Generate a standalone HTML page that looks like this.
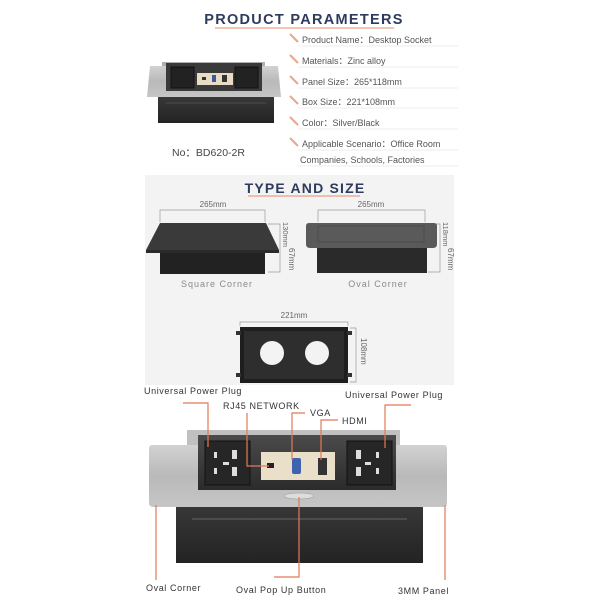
<!DOCTYPE html>
<html><head><meta charset="utf-8"><style>
html,body{margin:0;padding:0;background:#fff;width:600px;height:600px;overflow:hidden}
svg{display:block}
text{font-family:"Liberation Sans",sans-serif}
</style></head><body>
<svg width="600" height="600" viewBox="0 0 600 600" xmlns="http://www.w3.org/2000/svg">
<defs>
<linearGradient id="sil" x1="0" y1="0" x2="0" y2="1"><stop offset="0" stop-color="#d2d2d2"/><stop offset="0.5" stop-color="#b9b9b9"/><stop offset="1" stop-color="#c6c6c6"/></linearGradient>
<linearGradient id="blk" x1="0" y1="0" x2="0" y2="1"><stop offset="0" stop-color="#383838"/><stop offset="1" stop-color="#232323"/></linearGradient>
<linearGradient id="lidg" x1="0" y1="0" x2="0" y2="1"><stop offset="0" stop-color="#4b4b4b"/><stop offset="1" stop-color="#2b2b2b"/></linearGradient>
</defs>

<text x="304" y="24" text-anchor="middle" font-size="14.5" font-weight="bold" fill="#2d3b5e" letter-spacing="1.3">PRODUCT PARAMETERS</text>
<line x1="215" y1="28" x2="394" y2="28" stroke="#e98a6a" stroke-width="1"/>

<rect x="162" y="62" width="103" height="30" fill="#b0b0b0"/>
<path d="M150 66 L278 66 L281 97 L147 97 Z" fill="url(#sil)"/>
<rect x="166" y="63" width="96" height="28" fill="#3a3a3a"/>
<rect x="171" y="67" width="23" height="21" fill="#222" stroke="#111"/>
<rect x="235" y="67" width="23" height="21" fill="#222" stroke="#111"/>
<rect x="197" y="73" width="36" height="12" fill="#e8dcc4"/>
<rect x="202" y="77" width="4" height="3" fill="#333"/><rect x="212" y="75" width="4" height="7" fill="#3b5aa0"/><rect x="222" y="75" width="5" height="7" fill="#333"/>
<rect x="158" y="97" width="116" height="26" fill="url(#blk)"/>
<line x1="166" y1="103" x2="266" y2="103" stroke="#555" stroke-width="0.8"/>
<text x="172" y="156" font-size="10.5" fill="#444">No：BD620-2R</text>

<g font-size="9" fill="#555">
<g stroke="#e9a58e" stroke-width="2"><line x1="290" y1="34" x2="298" y2="42"/><line x1="290" y1="55" x2="298" y2="63"/><line x1="290" y1="76" x2="298" y2="84"/><line x1="290" y1="96" x2="298" y2="104"/><line x1="290" y1="117" x2="298" y2="125"/><line x1="290" y1="138" x2="298" y2="146"/></g>
<g stroke="#eee" stroke-width="1"><line x1="298" y1="46" x2="458" y2="46"/><line x1="298" y1="67" x2="458" y2="67"/><line x1="298" y1="88" x2="458" y2="88"/><line x1="298" y1="108" x2="458" y2="108"/><line x1="298" y1="129" x2="458" y2="129"/><line x1="298" y1="150" x2="458" y2="150"/><line x1="298" y1="166" x2="458" y2="166"/></g>
<text x="302" y="43">Product Name：Desktop Socket</text>
<text x="302" y="64">Materials：Zinc alloy</text>
<text x="302" y="85">Panel Size：265*118mm</text>
<text x="302" y="105">Box Size：221*108mm</text>
<text x="302" y="126">Color：Silver/Black</text>
<text x="302" y="147">Applicable Scenario：Office Room</text>
<text x="300" y="163">Companies, Schools, Factories</text>
</g>

<rect x="145" y="175" width="309" height="210" fill="#f3f3f3"/>
<text x="305" y="193" text-anchor="middle" font-size="14" font-weight="bold" fill="#2d3b5e" letter-spacing="1.2">TYPE AND SIZE</text>
<line x1="248" y1="196" x2="360" y2="196" stroke="#e98a6a" stroke-width="1"/>

<g stroke="#999" stroke-width="0.7" fill="none">
<path d="M160 222 V210 H265 V222"/><path d="M318 222 V210 H425 V222"/>
<path d="M268 224 H280 V272 H268"/><path d="M428 224 H440 V272 H428"/>
<path d="M240 326 V322 H348 V326"/><path d="M350 328 H356 V382 H350"/>
</g>
<g font-size="8" fill="#666">
<text x="213" y="207" text-anchor="middle">265mm</text>
<text x="371" y="207" text-anchor="middle">265mm</text>
<text x="294" y="318" text-anchor="middle">221mm</text>
<text transform="translate(283,222) rotate(90)" font-size="7.5">130mm</text>
<text transform="translate(289,248) rotate(90)">67mm</text>
<text transform="translate(443,222) rotate(90)" font-size="7.5">118mm</text>
<text transform="translate(448,248) rotate(90)">67mm</text>
<text transform="translate(361,338) rotate(90)">108mm</text>
</g>
<rect x="160" y="252" width="105" height="22" fill="#222"/>
<path d="M160 223 L266 223 L279 250 L146 250 Z" fill="#3a3a3a"/>
<rect x="146" y="250" width="133" height="3" fill="#2a2a2a"/>
<rect x="317" y="248" width="110" height="25" fill="#2a2a2a"/>
<path d="M309 223 L434 223 Q437 223 437 226 L437 244 Q437 248 433 248 L310 248 Q306 248 306 244 L306 226 Q306 223 309 223 Z" fill="#5a5a5a"/>
<rect x="318" y="226" width="106" height="16" fill="none" stroke="#444" stroke-width="0.6"/>
<g font-size="9" fill="#8a8a8a" letter-spacing="1">
<text x="217" y="287" text-anchor="middle">Square Corner</text>
<text x="378" y="287" text-anchor="middle">Oval Corner</text>
</g>
<rect x="240" y="327" width="108" height="56" fill="#1e1e1e"/>
<rect x="244" y="331" width="100" height="48" fill="#2e2e2e"/>
<circle cx="272" cy="353" r="12" fill="#f3f3f3"/><circle cx="317" cy="353" r="12" fill="#f3f3f3"/>
<rect x="236" y="331" width="5" height="4" fill="#333"/><rect x="347" y="331" width="5" height="4" fill="#333"/>
<rect x="236" y="373" width="5" height="4" fill="#333"/><rect x="347" y="373" width="5" height="4" fill="#333"/>

<rect x="187" y="430" width="213" height="60" fill="#c0c0c0"/>
<rect x="176" y="505" width="247" height="58" fill="url(#blk)"/>
<line x1="192" y1="519" x2="407" y2="519" stroke="#666" stroke-width="1"/>
<path d="M152 445 L444 445 Q447 445 447 449 L447 503 Q447 507 443 507 L154 507 Q149 507 149 503 L149 449 Q149 445 152 445 Z" fill="url(#sil)"/>
<rect x="198" y="435" width="198" height="55" fill="url(#lidg)"/>
<rect x="205" y="441" width="45" height="44" fill="#262626" stroke="#111"/>
<rect x="347" y="441" width="45" height="44" fill="#262626" stroke="#111"/>
<g fill="#ddd"><rect x="214" y="452" width="3" height="6"/><rect x="232" y="450" width="5" height="9"/><rect x="223" y="462" width="6" height="3"/><rect x="214" y="468" width="3" height="6"/><rect x="232" y="467" width="5" height="9"/>
<rect x="356" y="450" width="5" height="9"/><rect x="376" y="452" width="3" height="6"/><rect x="365" y="462" width="6" height="3"/><rect x="356" y="467" width="5" height="9"/><rect x="376" y="468" width="3" height="6"/></g>
<rect x="261" y="452" width="74" height="28" fill="#eadfc8"/>
<rect x="267" y="463" width="7" height="5" fill="#222"/>
<rect x="292" y="458" width="9" height="16" rx="2" fill="#3e63b0"/>
<rect x="318" y="458" width="9" height="17" fill="#333"/>
<ellipse cx="299" cy="496" rx="15" ry="3" fill="#ddd" stroke="#999" stroke-width="0.6"/>

<g stroke="#e07a55" stroke-width="1.2" fill="none">
<path d="M183 403 H208 V447"/>
<path d="M247 413 V466 H269"/>
<path d="M305 413 H292 V460"/>
<path d="M338 420 H321 V460"/>
<path d="M411 405 H385 V448"/>
<path d="M156 505 V580"/>
<path d="M274 577 H299 V497"/>
<path d="M445 505 V580"/>
</g>
<g font-size="9" fill="#333" letter-spacing="0.6">
<text x="144" y="394">Universal Power Plug</text>
<text x="223" y="409">RJ45 NETWORK</text>
<text x="310" y="416">VGA</text>
<text x="342" y="424">HDMI</text>
<text x="345" y="398">Universal Power Plug</text>
<text x="146" y="591">Oval Corner</text>
<text x="236" y="593">Oval Pop Up Button</text>
<text x="398" y="594">3MM Panel</text>
</g>
</svg>
</body></html>
